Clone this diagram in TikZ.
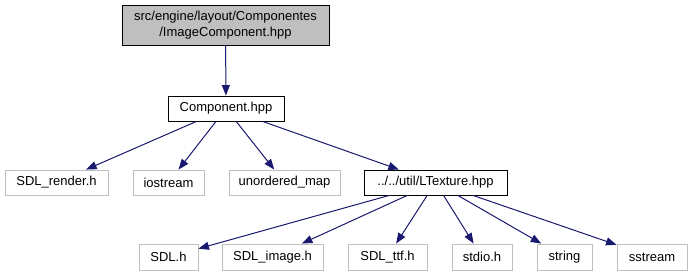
\documentclass[tikz,border=0pt]{standalone}
\usepackage{fontspec}
\setmainfont{Liberation Sans}
\usetikzlibrary{arrows.meta}
\definecolor{edgeblue}{HTML}{191970}
\definecolor{extgrey}{HTML}{BFBFBF}
\begin{document}
\begin{tikzpicture}[x=1pt,y=-1pt,
  file/.style={draw=black, line width=0.9pt, inner sep=0pt,
    font=\fontsize{13}{16.5}\selectfont, align=center},
  ext/.style={file, draw=extgrey},
  row/.style={minimum height=25pt},
  dep/.style={draw=edgeblue, line width=1pt,
    -{Triangle[length=10.5pt,width=8pt]}}]
  \useasboundingbox (0,0) rectangle (691,276);

  % the header this graph is drawn for
  \node[file, fill=extgrey, minimum width=207pt, minimum height=40pt] (main)
    at (225.5,25) {src/engine/layout/Componentes\\/ImageComponent.hpp};

  % direct include
  \node[file, row, minimum width=116pt] (comp) at (226,108.5) {Component.hpp};

  % includes of Component.hpp
  \node[ext, row, minimum width=103pt] (render) at (56.5,182.5) {SDL\_render.h};
  \node[ext, row, minimum width=71pt] (iostream) at (168.5,182.5) {iostream};
  \node[ext, row, minimum width=111pt] (umap) at (284.5,182.5) {unordered\_map};
  \node[file, row, minimum width=143pt] (ltex) at (435.5,182.5) {../../util/LTexture.hpp};

  % includes of LTexture.hpp
  \node[ext, row, minimum height=26pt, minimum width=59pt] (sdl) at (168.5,257) {SDL.h};
  \node[ext, row, minimum height=26pt, minimum width=101pt] (sdlimg) at (272.5,257) {SDL\_image.h};
  \node[ext, row, minimum height=26pt, minimum width=79pt] (sdlttf) at (387.5,257) {SDL\_ttf.h};
  \node[ext, row, minimum height=26pt, minimum width=60pt] (stdio) at (482,257) {stdio.h};
  \node[ext, row, minimum height=26pt, minimum width=55pt] (string) at (564.5,257) {string};
  \node[ext, row, minimum height=26pt, minimum width=70pt] (sstream) at (652,257) {sstream};

  \draw[dep] (main) -- (comp);
  \draw[dep] (comp) -- (render);
  \draw[dep] (comp) -- (iostream);
  \draw[dep] (comp) -- (umap);
  \draw[dep] (comp) -- (ltex);
  \draw[dep] (ltex) -- (sdl);
  \draw[dep] (ltex) -- (sdlimg);
  \draw[dep] (ltex) -- (sdlttf);
  \draw[dep] (ltex) -- (stdio);
  \draw[dep] (ltex) -- (string);
  \draw[dep] (ltex) -- (sstream);
\end{tikzpicture}
\end{document}
